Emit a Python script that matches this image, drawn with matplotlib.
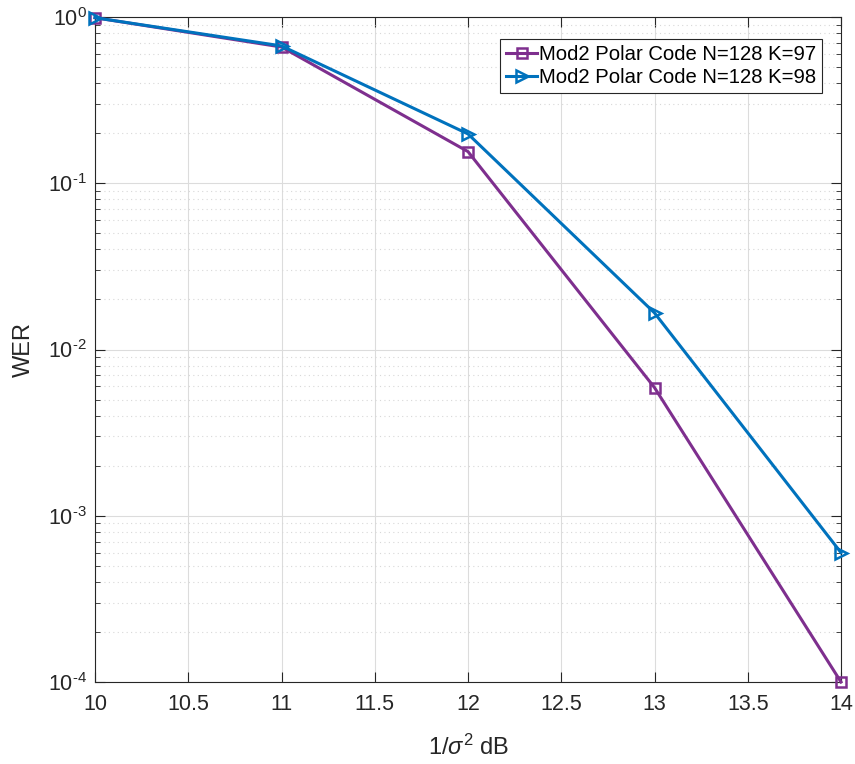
import numpy as np
import matplotlib
matplotlib.use("Agg")
from matplotlib import pyplot as plt

plt.rcParams['font.family'] = ['Liberation Sans', 'DejaVu Sans']
plt.rcParams['mathtext.fontset'] = 'custom'
plt.rcParams['mathtext.it'] = 'Liberation Sans:italic'
plt.rcParams['mathtext.rm'] = 'Liberation Sans'

snr = np.array([10, 11, 12, 13, 14])
wer_k97 = np.array([0.99, 0.66, 0.155, 0.0059, 1.0e-4])
wer_k98 = np.array([0.99, 0.67, 0.198, 0.0166, 6.0e-4])
labels = ["Mod2 Polar Code N=128 K=97", "Mod2 Polar Code N=128 K=98"]
yticks = [1e-4, 1e-3, 1e-2, 1e-1, 1]
yticklabels = [r"10$^{\text{-4}}$", r"10$^{\text{-3}}$", r"10$^{\text{-2}}$",
               r"10$^{\text{-1}}$", r"10$^{\text{0}}$"]

fig = plt.figure(figsize=(8.55, 7.64), dpi=100)
ax = fig.add_axes([95/855, 1-682/764, (841-95)/855, (682-17)/764])

ax.semilogy(snr, wer_k97, color="#7E2F8E", lw=2.2, marker="s", ms=6.5,
            mfc="none", mew=1.8, label=labels[0], clip_on=False, zorder=3)
ax.semilogy(snr, wer_k98, color="#0072BD", lw=2.2, marker=">", ms=9,
            mfc="none", mew=1.8, label=labels[1], clip_on=False, zorder=3)

ax.set_xlim(10, 14)
ax.set_ylim(1e-4, 1)
ax.set_xticks(np.arange(10, 14.01, 0.5))
ax.set_xticklabels(["10", "10.5", "11", "11.5", "12", "12.5", "13", "13.5", "14"])
ax.set_yticks(yticks)
ax.set_yticklabels(yticklabels)

ax.grid(True, which="major", color="#dcdcdc", lw=0.8, ls="-")
ax.grid(True, which="minor", axis="y", color="#d8d8d8", lw=0.8, ls=(0, (1, 3)))
ax.set_axisbelow(True)
ax.tick_params(which="both", direction="in", top=True, right=True,
               labelsize=15.5, colors="#262626")
ax.tick_params(which="major", length=7, width=0.8)
ax.tick_params(which="minor", length=3.5, width=0.6)
ax.tick_params(axis="x", pad=9)
ax.tick_params(axis="y", pad=6)
for s in ax.spines.values():
    s.set_color("#262626")
    s.set_linewidth(0.8)

ax.set_xlabel(r"1/$\sigma^2$ dB", fontsize=17, color="#262626", labelpad=14)
ax.set_ylabel("WER", fontsize=17, color="#262626", labelpad=9)

leg = ax.legend(loc="upper right", bbox_to_anchor=(0.9745, 0.967), fontsize=14.6,
                fancybox=False, framealpha=1, edgecolor="#262626",
                handlelength=1.5, handletextpad=0.1, borderpad=0.3,
                labelspacing=0.2, borderaxespad=0)
leg.get_frame().set_linewidth(0.8)

fig.savefig("out.png", dpi=100)
